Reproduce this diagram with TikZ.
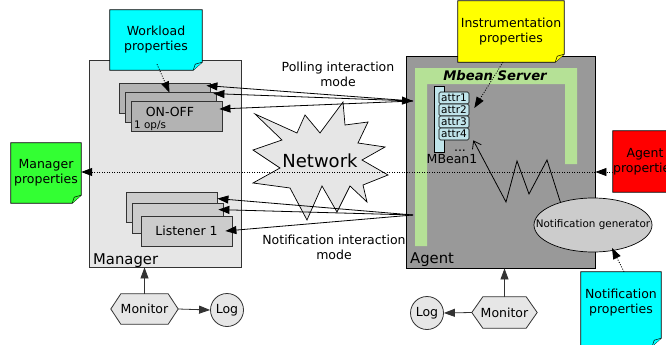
\documentclass[tikz,border=0pt]{standalone}
\usepackage{fontspec}
\setmainfont{DejaVu Sans}
\usetikzlibrary{arrows.meta,shapes.geometric,calc}
\pgfdeclarelayer{boxes}
\pgfdeclarelayer{notes}
\pgfsetlayers{boxes,notes,main}

\definecolor{mgrgray}{HTML}{E6E6E6}
\definecolor{agentgray}{HTML}{999999}
\definecolor{onoffgray}{HTML}{B3B3B3}
\definecolor{listgray}{HTML}{CCCCCC}
\definecolor{mbgreen}{HTML}{B5E196}
\definecolor{mbblue}{HTML}{C0E4EA}
\definecolor{notecyan}{HTML}{00FFFF}
\definecolor{noteyellow}{HTML}{FFFF00}
\definecolor{notered}{HTML}{FF0000}
\definecolor{notegreen}{HTML}{33FF33}
\definecolor{edgegray}{HTML}{333333}

\newcommand\notefill[3]{%
  \begin{pgfonlayer}{notes}
  \coordinate (#1-se) at ($(#1.south east)+(0,#3)$);
  \filldraw[fill=#2, draw=black, line width=0.7pt]
    (#1.north west) -- (#1.north east) -- ($(#1-se)+(0,-8)$) -- ($(#1-se)+(-9,0)$)
    -- (#1.south west |- #1-se) -- cycle;
  \filldraw[fill=#2, draw=black, line width=0.5pt]
    ($(#1-se)+(0,-8)$) -- ($(#1-se)+(-7,-6)$) -- ($(#1-se)+(-9,0)$);
  \end{pgfonlayer}}

\newcommand\hexfill[2]{%
  \begin{pgfonlayer}{notes}
  \filldraw[fill=mgrgray, draw=edgegray, line width=0.8pt]
    (#1.west) -- ($(#1.north west)+(#2,0)$) -- ($(#1.north east)+(-#2,0)$) -- (#1.east)
    -- ($(#1.south east)+(-#2,0)$) -- ($(#1.south west)+(#2,0)$) -- cycle;
  \end{pgfonlayer}}

\tikzset{
  every node/.style={font=\fontsize{12.5pt}{15pt}\selectfont, inner sep=0pt},
  notetext/.style={align=center},
  stackbox/.style={draw=edgegray, line width=0.8pt, minimum width=91, minimum height=30},
  attrbox/.style={draw=black, fill=mbblue, line width=0.6pt, rounded corners=1.5pt,
     minimum width=30, minimum height=12, font=\fontsize{10.5pt}{12pt}\selectfont},
  arr/.style={-{Triangle[length=11pt,width=8pt]}, line width=0.8pt},
  arrboth/.style={{Triangle[length=11pt,width=8pt]}-{Triangle[length=11pt,width=8pt]}, line width=0.8pt},
  arrg/.style={arr, draw=edgegray},
  dotarr/.style={arr, dash pattern=on 1pt off 1.5pt},
}

\begin{document}
\begin{tikzpicture}[x=1pt,y=-1pt]
\useasboundingbox (0,0) rectangle (666,345);

\begin{pgfonlayer}{boxes}
  \fill[white] (0,0) rectangle (666,345);
  \node (mgr) [draw=edgegray, fill=mgrgray, line width=0.9pt, minimum width=152, minimum height=207] at (165,163.5) {};
  \node (agent) [draw=black, fill=agentgray, line width=0.9pt, minimum width=189, minimum height=212] at (500.5,162) {};
\end{pgfonlayer}

\node (mgrlbl) [anchor=base west, font=\fontsize{14.8pt}{16pt}\selectfont] at (93,264) {Manager};
\node (agentlbl) [anchor=base west, font=\fontsize{14.8pt}{16pt}\selectfont] at (410,263) {Agent};

% Mbean server
\fill[mbgreen] (415,68) -- (577,68) -- (577,164) -- (565,164) -- (565,84) -- (427,84) -- (427,246) -- (415,246) -- cycle;
\node (mbs) [font=\fontsize{13.2pt}{15pt}\selectfont\bfseries\itshape] at (495,76) {Mbean Server};
\node (mbean) [draw=black, fill=mbblue, line width=0.6pt, minimum width=10, minimum height=66] at (439,119) {};
\node (a1) [attrbox] at (454,98) {attr1};
\node (a2) [attrbox] at (454,110) {attr2};
\node (a3) [attrbox] at (454,122) {attr3};
\node (a4) [attrbox] at (454,134) {attr4};
\node (dots) [anchor=base] at (460,151) {...};
\node (mb1) at (452,159) {MBean1};

% notes
\node (wl) [notetext, minimum width=92, minimum height=60] at (156,40) {Workload\\properties};
\notefill{wl}{notecyan}{0}
\node (instr) [notetext, minimum width=106, minimum height=61] at (511,31.5) {Instrumentation\\properties};
\notefill{instr}{noteyellow}{0}
\node (mgrp) [notetext, minimum width=70, minimum height=60] at (46,173) {Manager\\properties};
\notefill{mgrp}{notegreen}{0}
\node (agp) [notetext, minimum width=64, minimum height=61] at (645,161.5) {Agent\\properties};
\notefill{agp}{notered}{0}
\node (ntp) [notetext, minimum width=80, minimum height=62] at (621,303) {Notification\\properties};
\notefill{ntp}{notecyan}{12}

% ON-OFF stack
\node (onoff3) [stackbox, fill=onoffgray] at (165,98) {};
\node (onoff2) [stackbox, fill=onoffgray] at (171,107) {};
\node (onoff1) [stackbox, fill=onoffgray] at (177,116) {};
\node (onofftxt) at (170,112) {ON-OFF};
\node (rate) [anchor=west, font=\fontsize{10.4pt}{12pt}\selectfont] at (134,126) {1 op/s};

% Listener stack
\node (lst3) [stackbox, fill=listgray] at (171.5,207) {};
\node (lst2) [stackbox, fill=listgray] at (177.5,218) {};
\node (lst1) [stackbox, fill=listgray] at (186.5,231) {Listener 1};

% Network star
\filldraw[fill=mgrgray, draw=black, line width=0.7pt]
  (255,114) -- (297,133) -- (305,115) -- (320,133) -- (343,102) -- (345,125) -- (368,122)
  -- (358,143) -- (385,147) -- (362,160) -- (388,175) -- (363,185) -- (367,202) -- (350,186)
  -- (337,212) -- (322,186) -- (307,220) -- (290,188) -- (253,183) -- (280,168) -- (253,150)
  -- (282,140) -- cycle;
\node (net) [font=\fontsize{18pt}{20pt}\selectfont] at (320,161) {Network};

\node (pollt) [align=center] at (338,74) {Polling interaction\\mode};
\node (notift) [align=center] at (334,247) {Notification interaction\\mode};

% notification generator
\node (gen) [ellipse, draw=black, fill=listgray, line width=0.7pt, minimum width=118, minimum height=54,
   font=\fontsize{10.4pt}{12pt}\selectfont] at (593,225) {\makebox[0pt]{Notification generator}};

% monitors and logs
\node (monL) [minimum width=67, minimum height=30] at (144.5,309) {Monitor};
\hexfill{monL}{10}
\node (monR) [minimum width=65, minimum height=31] at (504.5,312.5) {Monitor};
\hexfill{monR}{11}
\node (logL) [circle, draw=edgegray, fill=mgrgray, line width=0.8pt, minimum size=33] at (227,310) {Log};
\node (logR) [circle, draw=edgegray, fill=mgrgray, line width=0.8pt, minimum size=33] at (427,313) {Log};

\draw[arrg] (monL.north) -- (monL.north |- mgr.south);
\draw[arrg] (monL.east) -- (logL.west);
\draw[arrg] (monR.north) -- (monR.north |- agent.south);
\draw[arrg] (monR.west) -- (logR.east);

% polling connectors
\coordinate (pollpt) at (413,101);
\draw[arr] (pollpt) -- ($(onoff3.north east)+(-4.5,3)$);
\draw[arrboth] ($(onoff2.north east)+(-3.5,2)$) -- (pollpt);
\draw[arr] (pollpt) -- ($(onoff1.east)+(-3.5,-7)$);

% notification connectors
\coordinate (notifpt) at (413,215);
\draw[arr] (notifpt) -- ($(lst3.north east)+(0,7)$);
\draw[arr] (notifpt) -- ($(lst2.north east)+(-5,7)$);
\draw[arr] (notifpt) -- ($(lst1.east)+(-7,0)$);

% dotted property links
\draw[dotarr] ($(wl.south)+(1,-6)$) -- ($(onoff2.north)+(-1.5,1)$);
\draw[dotarr] ($(instr.south)+(-8,0)$) -- ($(a2.east)+(5,-2)$);
\draw[dotarr] ($(ntp.north)+(3,0)$) -- ($(gen.center)+(19,23)$);
\coordinate (ap) at ([yshift=-10.5pt]agp.west);
\draw[dotarr] (ap) -- (agent.east |- ap);
\draw[dotarr] (agent.east |- ap) -- (mgrp.east |- ap);

% zigzag notification
\draw[line width=0.8pt, -{Straight Barb[length=7pt,width=10pt]}]
  (gen.145) -- (547,160) -- (529,194) -- (517,161) -- (506,202) -- ($(a4.south east)+(4,0)$);
\end{tikzpicture}
\end{document}
